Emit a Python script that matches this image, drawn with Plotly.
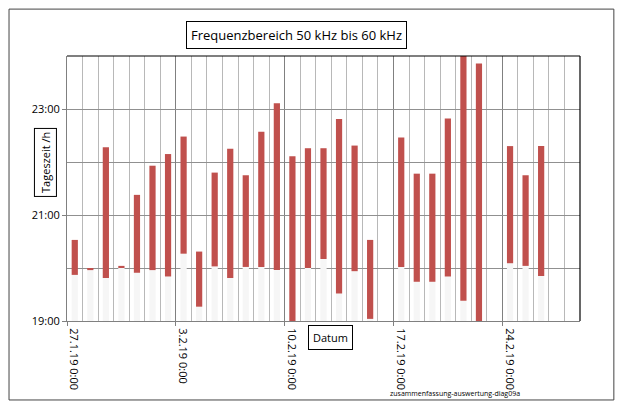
import plotly.graph_objects as go

days = ["27.1","28.1","29.1","30.1","31.1","1.2","2.2","3.2","4.2","5.2","6.2","7.2","8.2","9.2","10.2","11.2",
        "12.2","13.2","14.2","15.2","16.2","17.2","18.2","19.2","20.2","21.2","22.2","23.2","24.2","25.2","26.2","27.2","28.2"]
start = [19.87,19.96,19.81,20.01,19.91,19.96,19.84,20.27,19.27,20.03,19.81,20.02,20.02,19.96,19.0,20.0,
         20.17,19.52,19.94,19.04,None,20.02,19.74,19.74,19.84,19.38,19.0,None,20.09,20.04,19.85,None,None]
end = [20.53,20.0,22.28,20.04,21.38,21.93,22.15,22.48,20.31,21.8,22.25,21.75,22.57,23.11,22.11,22.26,
       22.26,22.81,22.31,20.53,None,22.46,21.78,21.78,22.82,24.0,23.86,None,22.3,21.75,22.3,None,None]
tick_pos = [0, 7, 14, 21, 28]
tick_text = ["27.1.19 0:00", "3.2.19 0:00", "10.2.19 0:00", "17.2.19 0:00", "24.2.19 0:00"]
y_ticks = [19, 21, 23]
y_text = ["19:00", "21:00", "23:00"]

xs = [i + 0.5 for i in range(len(days))]
base = [(s - 19) if s is not None else 0 for s in start]
length = [(e - s) if s is not None else 0 for s, e in zip(start, end)]

fig = go.Figure()
fig.add_bar(x=xs, y=base, base=19, marker_color="#f6f6f6", marker_line_width=0, width=0.4)
fig.add_bar(x=xs, y=length, base=[19 + b for b in base], marker_color="#c0504d", marker_line_width=0, width=0.4)
fig.update_layout(
    width=608, height=396, barmode="overlay", showlegend=False,
    paper_bgcolor="white", plot_bgcolor="white",
    margin=dict(l=59, r=36, t=48, b=83),
    font=dict(family="Open Sans", size=11, color="#000"),
    xaxis=dict(range=[0, 33], tickmode="array", tickvals=tick_pos, ticktext=tick_text,
               tickangle=90, ticklabelshift=7, showgrid=True, gridcolor="#808080", gridwidth=1, automargin=False,
               minor=dict(dtick=1, tick0=0, showgrid=True, gridcolor="#b8b8b8"),
               ticks="outside", ticklen=4, tickcolor="#808080",
               showline=True, linecolor="#808080", mirror=False, zeroline=False,
               tickfont=dict(size=11)),
    yaxis=dict(range=[19, 24], tickmode="array", tickvals=y_ticks, ticktext=y_text, automargin=False,
               showgrid=True, gridcolor="#909090",
               minor=dict(dtick=1, tick0=19, showgrid=True, gridcolor="#909090"),
               ticks="outside", ticklen=4, tickcolor="#808080",
               showline=True, linecolor="#808080", zeroline=False, tickfont=dict(size=11)),
    shapes=[
        dict(type="line", xref="paper", yref="paper", x0=1, x1=1, y0=0, y1=1, line=dict(color="#000", width=1.2)),
        dict(type="line", xref="paper", yref="paper", x0=0, x1=1, y0=1, y1=1, line=dict(color="#000", width=1.2)),
        dict(type="rect", xref="paper", yref="paper", x0=-0.113, x1=1.066, y0=-0.298, y1=1.177,
             line=dict(color="#444", width=1)),
    ],
    annotations=[
        dict(text="Frequenzbereich 50 kHz bis 60 kHz", xref="paper", yref="paper", x=0.448, y=1.08,
             yanchor="middle", xanchor="center",
             showarrow=False, font=dict(size=13), bordercolor="#000", borderwidth=1, borderpad=4),
        dict(text="Tageszeit /h", xref="paper", yref="paper", x=-0.043, y=0.6, textangle=-90,
             yanchor="middle", xanchor="center",
             showarrow=False, font=dict(size=11), bordercolor="#000", borderwidth=1, borderpad=3),
        dict(text="Datum", xref="paper", yref="paper", x=0.513, y=-0.064,
             yanchor="middle", xanchor="center",
             showarrow=False, font=dict(size=11), bordercolor="#000", borderwidth=1, borderpad=4),
        dict(text="zusammenfassung-auswertung-diag09a", xref="paper", yref="paper", x=0.756, y=-0.275,
             yanchor="middle", xanchor="center",
             showarrow=False, font=dict(size=7)),
    ],
)
fig.write_html("out.html")
